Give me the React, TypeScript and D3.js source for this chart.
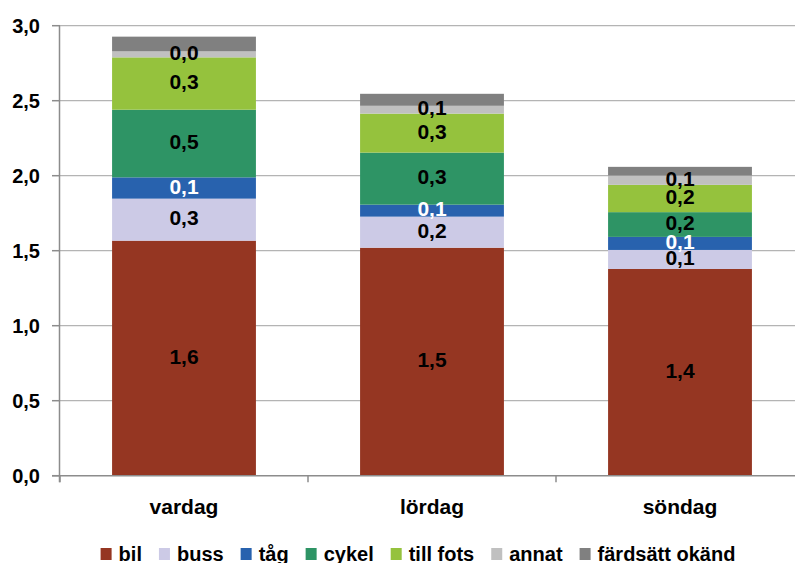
import { useEffect, useRef } from "react";
import * as d3 from "d3";

// categories and series (trips per person and day)
const categories = ["vardag", "lördag", "söndag"];
const modes = ["bil", "buss", "tåg", "cykel", "till fots", "annat", "färdsätt okänd"];
const bil = [1.567, 1.52, 1.378];
const buss = [0.28, 0.207, 0.127];
const tag = [0.142, 0.08, 0.087];
const cykel = [0.451, 0.347, 0.165];
const tillFots = [0.349, 0.26, 0.182];
const annat = [0.04, 0.052, 0.062];
const okand = [0.098, 0.08, 0.058];
const yTicks = [0, 0.5, 1.0, 1.5, 2.0, 2.5, 3.0];

const colors = ["#953622", "#cccae6", "#2862ae", "#2e9465", "#95c23d", "#c0c0c0", "#808080"];
const labelColors = ["#000", "#000", "#fff", "#000", "#000", "#000", null];

const FONT = "'Liberation Sans', Arial, sans-serif";

export default function App() {
  const svgRef = useRef<SVGSVGElement>(null);

  useEffect(() => {
    if (!svgRef.current) return;
    const svg = d3.select(svgRef.current);
    svg.selectAll("*").remove();

    const width = 795;
    const height = 563;
    const left = 60;
    const right = 804;
    const top = 25.7;
    const bottom = 475.7;

    svg.attr("width", width).attr("height", height);

    const seriesValues = [bil, buss, tag, cykel, tillFots, annat, okand];
    const rows = categories.map((c, i) => {
      const row: Record<string, any> = { cat: c };
      modes.forEach((m, j) => (row[m] = seriesValues[j][i]));
      return row;
    });
    const stacked = d3.stack<any>().keys(modes)(rows);

    const y = d3.scaleLinear().domain([0, 3]).range([bottom, top]);
    const x = d3
      .scaleBand()
      .domain(categories)
      .range([left, right])
      .paddingInner(0.42)
      .paddingOuter(0.21);
    const step = x.step();

    const sv = d3.formatLocale({
      decimal: ",",
      thousands: " ",
      grouping: [3],
      currency: ["", " kr"],
    });
    const fmt = sv.format(".1f");

    // Grid lines
    svg
      .append("g")
      .selectAll("line")
      .data(yTicks.filter((t) => t > 0))
      .join("line")
      .attr("x1", left)
      .attr("x2", width)
      .attr("y1", (d) => y(d))
      .attr("y2", (d) => y(d))
      .attr("stroke", "#b4b4b4")
      .attr("stroke-width", 1.3);

    // Bars
    stacked.forEach((s, si) => {
      svg
        .append("g")
        .selectAll("rect")
        .data(s)
        .join("rect")
        .attr("x", (d: any) => x(d.data.cat)!)
        .attr("width", x.bandwidth())
        .attr("y", (d) => y(d[1]))
        .attr("height", (d) => y(d[0]) - y(d[1]))
        .attr("fill", colors[si]);
    });

    // Data labels
    stacked.forEach((s, si) => {
      if (!labelColors[si]) return;
      svg
        .append("g")
        .selectAll("text")
        .data(s)
        .join("text")
        .attr("x", (d: any) => x(d.data.cat)! + x.bandwidth() / 2)
        .attr("y", (d) => (y(d[0]) + y(d[1])) / 2 + 5.5)
        .attr("text-anchor", "middle")
        .attr("font-family", FONT)
        .attr("font-weight", "bold")
        .attr("font-size", "21px")
        .attr("fill", labelColors[si]!)
        .text((d) => fmt(d[1] - d[0]));
    });

    const axisColor = "#8c8c8c";

    // Y axis
    svg
      .append("line")
      .attr("x1", left - 0.5)
      .attr("x2", left - 0.5)
      .attr("y1", top)
      .attr("y2", bottom + 6.5)
      .attr("stroke", axisColor)
      .attr("stroke-width", 1.5);
    svg
      .append("g")
      .selectAll("line")
      .data(yTicks)
      .join("line")
      .attr("x1", left - 8)
      .attr("x2", left)
      .attr("y1", (d) => y(d))
      .attr("y2", (d) => y(d))
      .attr("stroke", axisColor)
      .attr("stroke-width", 1.5);
    svg
      .append("g")
      .selectAll("text")
      .data(yTicks)
      .join("text")
      .attr("x", 40)
      .attr("y", (d) => y(d) + 7.3)
      .attr("text-anchor", "end")
      .attr("font-family", FONT)
      .attr("font-weight", "bold")
      .attr("font-size", "20px")
      .attr("fill", "#000")
      .text((d) => fmt(d));

    // X axis
    svg
      .append("line")
      .attr("x1", left - 8)
      .attr("x2", width)
      .attr("y1", bottom)
      .attr("y2", bottom)
      .attr("stroke", axisColor)
      .attr("stroke-width", 1.5);
    svg
      .append("g")
      .selectAll("line")
      .data(d3.range(categories.length + 1))
      .join("line")
      .attr("x1", (i) => left + i * step)
      .attr("x2", (i) => left + i * step)
      .attr("y1", bottom)
      .attr("y2", bottom + 6.5)
      .attr("stroke", axisColor)
      .attr("stroke-width", 1.5);
    svg
      .append("g")
      .selectAll("text")
      .data(categories)
      .join("text")
      .attr("x", (d) => x(d)! + x.bandwidth() / 2)
      .attr("y", 514)
      .attr("text-anchor", "middle")
      .attr("font-family", FONT)
      .attr("font-weight", "bold")
      .attr("font-size", "21px")
      .attr("fill", "#000")
      .text((d) => d);

    // Legend
    const legend = svg.append("g");
    const sq = 11;
    const gap = 7;
    const spacing = 17;
    const items = modes.map((m, i) => {
      const g = legend.append("g");
      g.append("rect")
        .attr("width", sq)
        .attr("height", 12)
        .attr("y", 548)
        .attr("fill", colors[i]);
      const t = g
        .append("text")
        .attr("x", sq + gap)
        .attr("y", 561)
        .attr("font-family", FONT)
        .attr("font-weight", "bold")
        .attr("font-size", "20px")
        .attr("fill", "#000")
        .text(m);
      const w = (t.node() as SVGTextElement).getComputedTextLength();
      return { g, w: sq + gap + w };
    });
    const total = d3.sum(items, (d) => d.w) + spacing * (items.length - 1);
    let cx = 418 - total / 2;
    items.forEach((it) => {
      it.g.attr("transform", `translate(${cx},0)`);
      cx += it.w + spacing;
    });
  }, []);

  return (
    <div style={{ position: "absolute", left: 0, top: 0, background: "#fff" }}>
      <svg ref={svgRef} style={{ display: "block" }}></svg>
    </div>
  );
}
